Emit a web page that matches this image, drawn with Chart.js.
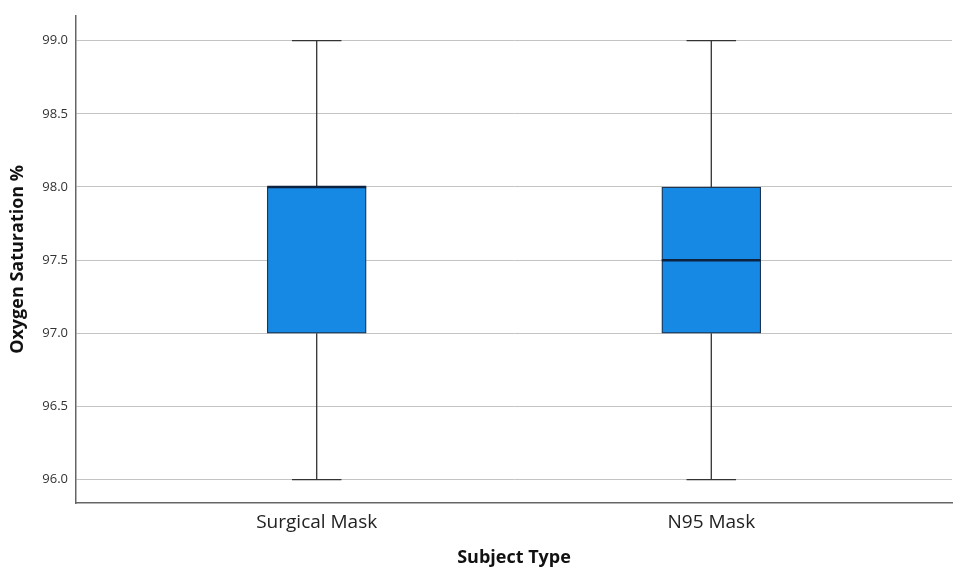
<!DOCTYPE html>
<html>
<head>
<meta charset="utf-8">
<script src="https://cdn.jsdelivr.net/npm/chart.js@4.4.0/dist/chart.umd.min.js"></script>
<style>
  html, body { margin: 0; padding: 0; background: #fff; }
  #wrap { width: 960px; height: 571px; }
</style>
</head>
<body>
<div id="wrap"><canvas id="boxChart"></canvas></div>
<script>
// 箱线图数据
const categories = ['Surgical Mask', 'N95 Mask'];
const positions = [1, 2];
const whiskerMin = [96.0, 96.0];
const q1 = [97.0, 97.0];
const median = [98.0, 97.5];
const q3 = [98.0, 98.0];
const whiskerMax = [99.0, 99.0];
const yTicks = [96.0, 96.5, 97.0, 97.5, 98.0, 98.5, 99.0];

const boxColor = '#1589e4';
const boxBorder = '#1d3550';
const lineColor = '#333333';

// 须线、端帽、中位线 —— 通过 Chart.js 的比例尺计算像素
const boxPlotPlugin = {
  id: 'boxPlotPlugin',
  beforeDatasetsDraw(chart) {
    const { ctx, scales: { x, y } } = chart;
    const meta = chart.getDatasetMeta(0);
    ctx.save();
    ctx.strokeStyle = lineColor;
    ctx.lineWidth = 1.3;
    meta.data.forEach((bar, i) => {
      const cx = x.getPixelForValue(positions[i]);
      const half = bar.width / 4;
      const yMin = y.getPixelForValue(whiskerMin[i]);
      const yMax = y.getPixelForValue(whiskerMax[i]);
      const yQ1 = y.getPixelForValue(q1[i]);
      const yQ3 = y.getPixelForValue(q3[i]);
      ctx.beginPath();
      ctx.moveTo(cx, yMax); ctx.lineTo(cx, yQ3);
      ctx.moveTo(cx, yQ1); ctx.lineTo(cx, yMin);
      ctx.moveTo(cx - half, yMax); ctx.lineTo(cx + half, yMax);
      ctx.moveTo(cx - half, yMin); ctx.lineTo(cx + half, yMin);
      ctx.stroke();
    });
    ctx.restore();
  },
  afterDatasetsDraw(chart) {
    const { ctx, scales: { x, y } } = chart;
    const meta = chart.getDatasetMeta(0);
    ctx.save();
    ctx.strokeStyle = '#0d2340';
    ctx.lineWidth = 2.5;
    meta.data.forEach((bar, i) => {
      const cx = x.getPixelForValue(positions[i]);
      const half = bar.width / 2;
      const yMed = y.getPixelForValue(median[i]);
      ctx.beginPath();
      ctx.moveTo(cx - half, yMed);
      ctx.lineTo(cx + half, yMed);
      ctx.stroke();
    });
    ctx.restore();
  }
};

new Chart(document.getElementById('boxChart').getContext('2d'), {
  type: 'bar',
  data: {
    datasets: [{
      label: 'Oxygen Saturation %',
      data: positions.map((p, i) => ({ x: p, y: [q1[i], q3[i]] })),
      backgroundColor: boxColor,
      borderColor: boxBorder,
      borderWidth: 1.3,
      borderSkipped: false,
      barThickness: 99
    }]
  },
  options: {
    responsive: true,
    maintainAspectRatio: false,
    animation: false,
    layout: { padding: { top: 13, right: 8, left: 0, bottom: 0 } },
    plugins: {
      legend: { display: false },
      tooltip: { enabled: false }
    },
    scales: {
      x: {
        type: 'linear',
        offset: false,
        min: 0.39,
        max: 2.61,
        afterBuildTicks: (scale) => {
          scale.ticks = positions.map(v => ({ value: v }));
        },
        afterFit: (scale) => { scale.height = 68; },
        grid: { display: false, drawTicks: false },
        border: { display: true, color: '#666666', width: 1.5 },
        ticks: {
          padding: 8,
          color: '#222222',
          font: { family: 'Open Sans', size: 19 },
          callback: (v) => categories[positions.indexOf(v)] ?? ''
        },
        title: {
          display: true,
          text: 'Subject Type',
          color: '#111111',
          padding: { top: 0, bottom: 2 },
          font: { family: 'Open Sans', size: 18, weight: 'bold' }
        }
      },
      y: {
        min: 95.84,
        max: 99.17,
        afterBuildTicks: (scale) => {
          scale.ticks = yTicks.map(v => ({ value: v }));
        },
        afterFit: (scale) => { scale.width = 76; },
        grid: { color: '#c4c4c4', lineWidth: 1, drawTicks: false },
        border: { display: true, color: '#666666', width: 1.5 },
        ticks: {
          padding: 8,
          color: '#333333',
          font: { family: 'Open Sans', size: 13 },
          callback: (v) => Number(v).toFixed(1)
        },
        title: {
          display: true,
          text: 'Oxygen Saturation %',
          color: '#111111',
          padding: { top: 7, bottom: 0 },
          font: { family: 'Open Sans', size: 18, weight: 'bold' }
        }
      }
    }
  },
  plugins: [boxPlotPlugin]
});
</script>
</body>
</html>
